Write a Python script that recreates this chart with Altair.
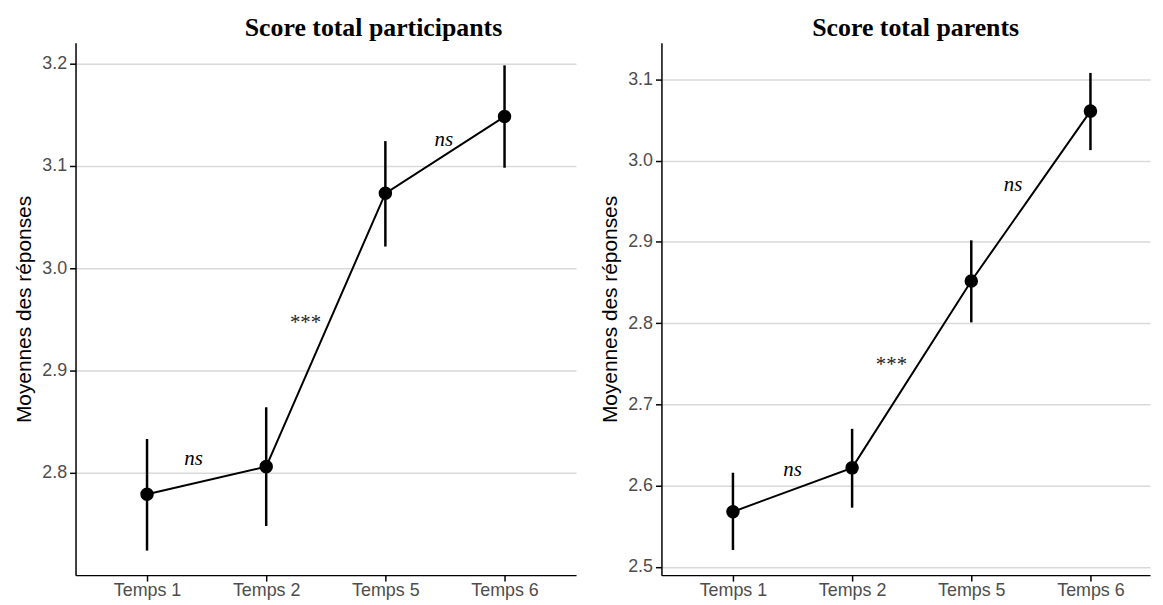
import json
import altair as alt
import pandas as pd

# ---- data ----
times = ["Temps 1", "Temps 2", "Temps 5", "Temps 6"]
positions = [1, 2, 3, 4]

part_mean = [2.779, 2.806, 3.073, 3.148]
part_low = [2.724, 2.748, 3.021, 3.098]
part_high = [2.833, 2.864, 3.124, 3.198]

par_mean = [2.568, 2.622, 2.852, 3.061]
par_low = [2.521, 2.573, 2.801, 3.013]
par_high = [2.616, 2.670, 2.902, 3.108]

part_ann_x = [1.39, 2.33, 3.49]
part_ann_y = [2.808, 2.940, 3.119]
part_ann_text = ["ns", "***", "ns"]

par_ann_x = [1.50, 2.33, 3.35]
par_ann_y = [2.612, 2.741, 2.963]
par_ann_text = ["ns", "***", "ns"]

part_ticks = [2.8, 2.9, 3.0, 3.1, 3.2]
par_ticks = [2.5, 2.6, 2.7, 2.8, 2.9, 3.0, 3.1]

label_expr = json.dumps(times) + "[datum.value - 1]"


def panel(title, mean, low, high, ax, ay, atext, y_domain, y_ticks, x_domain, width, title_dx):
    df = pd.DataFrame({"pos": positions, "temps": times, "mean": mean, "low": low, "high": high})
    ann = pd.DataFrame({"pos": ax, "mean": ay, "label": atext,
                        "italic": [t == "ns" for t in atext]})

    x_axis = alt.Axis(values=positions, labelExpr=label_expr, title=None, grid=False,
                      labelPadding=1)
    y_axis = alt.Axis(values=y_ticks, format=".1f", title="Moyennes des réponses",
                      grid=True, labelPadding=3, titlePadding=7)
    xs = alt.Scale(domain=x_domain, nice=False, zero=False)
    ys = alt.Scale(domain=y_domain, nice=False, zero=False)

    x = alt.X("pos:Q", scale=xs, axis=x_axis)
    base = alt.Chart(df)

    bars = base.mark_rule(color="black", strokeWidth=2.5).encode(
        x=x,
        y=alt.Y("low:Q", scale=ys, axis=y_axis),
        y2="high:Q",
    )
    line = base.mark_line(color="black", strokeWidth=2).encode(
        x=x, y=alt.Y("mean:Q", scale=ys, axis=y_axis)
    )
    pts = base.mark_circle(color="black", opacity=1, size=185).encode(
        x=x, y=alt.Y("mean:Q", scale=ys, axis=y_axis)
    )
    txt_it = alt.Chart(ann).transform_filter("datum.italic").mark_text(
        font="Liberation Serif", fontSize=21, fontStyle="italic", color="black",
        align="center", baseline="alphabetic"
    ).encode(x=x, y=alt.Y("mean:Q", scale=ys, axis=y_axis), text="label:N")
    txt_st = alt.Chart(ann).transform_filter("!datum.italic").mark_text(
        font="Liberation Serif", fontSize=21, color="#222222",
        align="center", baseline="alphabetic"
    ).encode(x=x, y=alt.Y("mean:Q", scale=ys, axis=y_axis), text="label:N")

    return alt.layer(bars, line, pts, txt_it, txt_st).properties(
        width=width, height=536,
        title=alt.TitleParams(title, font="Liberation Serif", fontSize=26, fontWeight="bold",
                              color="black", anchor="middle", dx=title_dx, offset=2),
    )


left = panel("Score total participants", part_mean, part_low, part_high,
             part_ann_x, part_ann_y, part_ann_text,
             [2.70, 3.22], part_ticks, [0.4, 4.6], 504, 48)
right = panel("Score total parents", par_mean, par_low, par_high,
              par_ann_x, par_ann_y, par_ann_text,
              [2.49, 3.145], par_ticks, [0.4, 4.5], 492, 10)

chart = alt.hconcat(left, right, spacing=23).configure_view(stroke=None).configure_axis(
    labelFont="Liberation Sans", labelFontSize=18, labelColor="#4d4d4d",
    titleFont="Liberation Sans", titleFontSize=21, titleColor="black", titleFontWeight="normal",
    domainColor="black", domainWidth=1.5, tickColor="black", tickWidth=1.5, tickSize=6,
    gridColor="#d9d9d9", gridWidth=1.5,
)

chart.save("out.html", embed_options={"renderer": "svg", "actions": False})
